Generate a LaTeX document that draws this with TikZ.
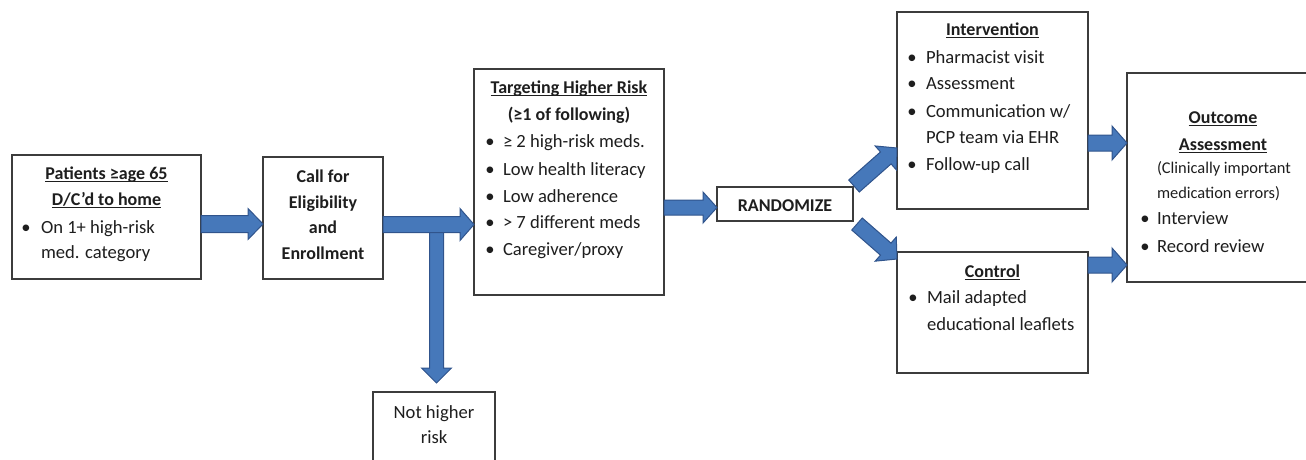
\documentclass[tikz,border=0pt]{standalone}
\usepackage{fontspec}
\setmainfont{Carlito}
\usetikzlibrary{calc}
\definecolor{arrowblue}{RGB}{70,120,186}
\definecolor{arrowedge}{RGB}{48,84,140}
\definecolor{boxline}{RGB}{60,60,60}
\definecolor{txtcol}{RGB}{30,30,30}
\newcommand{\ulx}[1]{\setbox0\hbox{#1}\rlap{\rule[-3pt]{\wd0}{1pt}}\box0}
\newcommand{\blockarrow}[5]{%
  \coordinate (baA) at #1;
  \coordinate (baB) at #2;
  \coordinate (baH) at ($(baB)!#5pt!(baA)$);
  \filldraw[barrow]
    ($(baA)!#3pt!90:(baB)$) --
    ($(baH)!#3pt!-90:(baA)$) --
    ($(baH)!#4pt!-90:(baA)$) --
    (baB) --
    ($(baH)!#4pt!90:(baA)$) --
    ($(baH)!#3pt!90:(baA)$) --
    ($(baA)!#3pt!-90:(baB)$) -- cycle;}
\tikzset{
  box/.style={draw=boxline, line width=1.2pt, fill=white, inner sep=0pt, outer sep=0pt},
  barrow/.style={fill=arrowblue, draw=arrowedge, line width=1pt, line join=miter},
  txt/.style={inner sep=0pt, outer sep=0pt, text=txtcol, font=\fontsize{18.6}{26}\selectfont},
  btxt/.style={txt, font=\fontsize{18}{26}\selectfont\bfseries},
  stxt/.style={txt, font=\fontsize{16.4}{24}\selectfont},
}
\begin{document}
\begin{tikzpicture}[x=1pt, y=-1pt]
\useasboundingbox (0,0) rectangle (1306,459);
% boxes
\node[box, minimum width=189pt, minimum height=124pt] (p) at (106.5,217) {};
\node[box, minimum width=120pt, minimum height=122pt] (c) at (323,218) {};
\node[box, minimum width=190pt, minimum height=226pt] (t) at (569,182) {};
\node[box, minimum width=136pt, minimum height=34pt] (r) at (785,204) {};
\node[box, minimum width=191pt, minimum height=197pt] (i) at (992.5,110.5) {};
\node[box, minimum width=191pt, minimum height=121pt] (k) at (992.5,312.5) {};
\node[box, minimum width=193pt, minimum height=209pt] (o) at (1223.5,177.5) {};
\node[box, minimum width=122pt, minimum height=108pt] (n) at (434,446) {};
% patients box text
\node[btxt, anchor=base] (p1) at (106.5,179) {\ulx{Patients ≥age 65}};
\node[btxt, anchor=base] (p2) at (106.5,205) {\ulx{D/C’d to home}};
\node[txt, anchor=base] (pb1) at (26,233) {•};
\node[txt, anchor=base west] (p3) at (41,233) {On 1+ high-risk};
\node[txt, anchor=base west] (p4) at (41,258) {med. category};
% call box
\node[btxt, anchor=base] (c1) at (323,182) {Call for};
\node[btxt, anchor=base] (c2) at (323,208) {Eligibility};
\node[btxt, anchor=base] (c3) at (323,233) {and};
\node[btxt, anchor=base] (c4) at (323,259) {Enrollment};
% targeting box
\node[btxt, anchor=base] (t1) at (569,93) {\ulx{Targeting Higher Risk}};
\node[btxt, anchor=base] (t2) at (569,120) {(≥1 of following)};
\node[txt, anchor=base] (tb1) at (490,147) {•};
\node[txt, anchor=base west] (t3) at (503,147) {≥ 2 high-risk meds.};
\node[txt, anchor=base] (tb2) at (490,175) {•};
\node[txt, anchor=base west] (t4) at (503,175) {Low health literacy};
\node[txt, anchor=base] (tb3) at (490,202) {•};
\node[txt, anchor=base west] (t5) at (503,202) {Low adherence};
\node[txt, anchor=base] (tb4) at (490,228) {•};
\node[txt, anchor=base west] (t6) at (503,228) {> 7 different meds};
\node[txt, anchor=base] (tb5) at (490,255) {•};
\node[txt, anchor=base west] (t7) at (503,255) {Caregiver/proxy};
% randomize
\node[btxt, anchor=base] (r1) at (785,211) {RANDOMIZE};
% intervention
\node[btxt, anchor=base] (i1) at (992.5,35) {\ulx{Intervention}};
\node[txt, anchor=base] (ib1) at (912,63) {•};
\node[txt, anchor=base west] (i2) at (926,63) {Pharmacist visit};
\node[txt, anchor=base] (ib2) at (912,89) {•};
\node[txt, anchor=base west] (i3) at (926,89) {Assessment};
\node[txt, anchor=base] (ib3) at (912,117) {•};
\node[txt, anchor=base west] (i4) at (926,117) {Communication w/};
\node[txt, anchor=base west] (i5) at (926,143) {PCP team via EHR};
\node[txt, anchor=base] (ib4) at (912,170) {•};
\node[txt, anchor=base west] (i6) at (926,170) {Follow-up call};
% control
\node[btxt, anchor=base] (k1) at (992.5,277) {\ulx{Control}};
\node[txt, anchor=base] (kb1) at (913,303) {•};
\node[txt, anchor=base west] (k2) at (927,303) {Mail adapted};
\node[txt, anchor=base west] (k3) at (927,330) {educational leaflets};
% outcome
\node[btxt, anchor=base] (o1) at (1223,123) {\ulx{Outcome}};
\node[btxt, anchor=base] (o2) at (1223,150) {\ulx{Assessment}};
\node[stxt, anchor=base west] (o3) at (1157,173) {(Clinically important};
\node[stxt, anchor=base west] (o4) at (1157,198) {medication errors)};
\node[txt, anchor=base] (ob1) at (1145,224) {•};
\node[txt, anchor=base west] (o5) at (1157,224) {Interview};
\node[txt, anchor=base] (ob2) at (1145,252) {•};
\node[txt, anchor=base west] (o6) at (1157,252) {Record review};
% not higher risk
\node[txt, anchor=base] (n1) at (434,418) {Not higher};
\node[txt, anchor=base] (n2) at (434,443) {risk};
% arrows
\coordinate (vstart) at (436.5,226);
\coordinate (vtip) at (436.5,383);
\blockarrow{(vstart)}{(vtip)}{7}{15}{15}
\blockarrow{(p.east |- 0,224)}{(c.west |- 0,224)}{8.5}{15.5}{15}
\blockarrow{(c.east |- 0,224.5)}{(t.west |- 0,224.5)}{8}{16}{14}
\blockarrow{(t.east |- 0,207.5)}{(r.west |- 0,207.5)}{7.5}{15.5}{14}
\coordinate (d1s) at (854,186);
\coordinate (d2s) at (857,224);
\blockarrow{(d1s)}{(i.west |- 0,148)}{8}{16}{15}
\blockarrow{(d2s)}{(k.west |- 0,259)}{8}{16}{15}
\blockarrow{(i.east |- 0,143)}{(o.west |- 0,143)}{8}{17}{15}
\blockarrow{(k.east |- 0,265)}{(o.west |- 0,265)}{8}{17}{15}
\end{tikzpicture}
\end{document}
